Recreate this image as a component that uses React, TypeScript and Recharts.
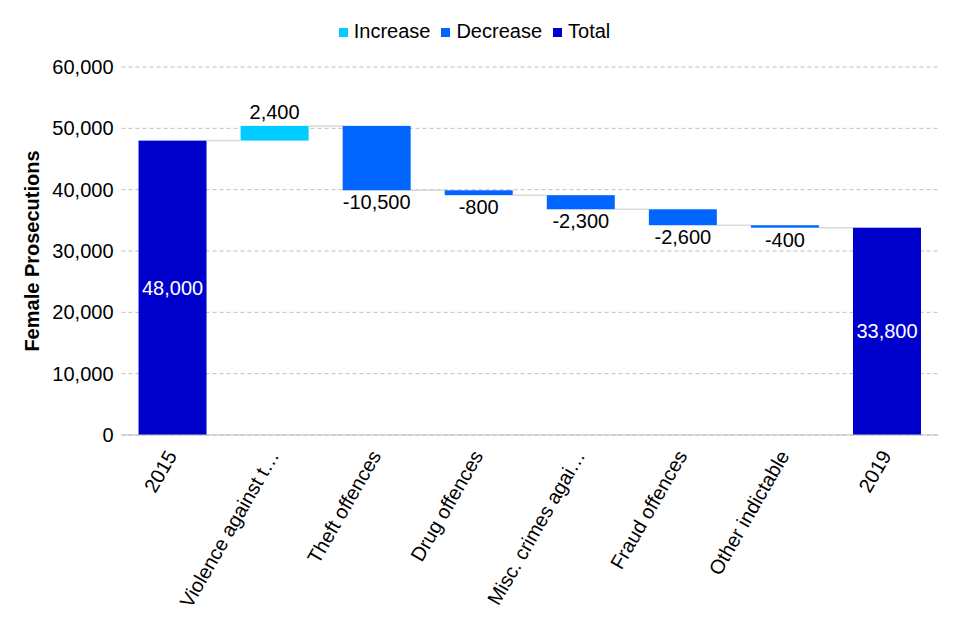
import React from 'react';
import { BarChart, Bar, XAxis, YAxis, CartesianGrid, Legend, LabelList } from 'recharts';

const categories = ['2015', 'Violence against t…', 'Theft offences', 'Drug offences', 'Misc. crimes agai…', 'Fraud offences', 'Other indictable', '2019'];
const startTotal = 48000;
const deltas = [2400, -10500, -800, -2300, -2600, -400];
const endTotal = 33800;
const yTicks = [0, 10000, 20000, 30000, 40000, 50000, 60000];
const legendOrder = ['Increase', 'Decrease', 'Total'];

const COL_INC = '#00CCFF';
const COL_DEC = '#0066FF';
const COL_TOT = '#0000CC';
const FONT = '"Liberation Sans", Arial, sans-serif';
const FS = 20;
const GAP_FRAC = 0.167;

type Row = { name: string; base: number; increase: number | null; decrease: number | null; total: number | null; end: number; last: boolean };

const rows: Row[] = (() => {
  const out: Row[] = [];
  out.push({ name: categories[0], base: 0, increase: null, decrease: null, total: startTotal, end: startTotal, last: false });
  let run = startTotal;
  deltas.forEach((d, i) => {
    const next = run + d;
    out.push({
      name: categories[i + 1],
      base: Math.min(run, next),
      increase: d > 0 ? d : null,
      decrease: d < 0 ? -d : null,
      total: null,
      end: next,
      last: false,
    });
    run = next;
  });
  out.push({ name: categories[categories.length - 1], base: 0, increase: null, decrease: null, total: endTotal, end: endTotal, last: true });
  return out;
})();

const fmt = (v: number) => v.toLocaleString('en-US');

const makeShape = (kind: 'inc' | 'dec' | 'tot') => (props: any) => {
  const { x, y, width, height, fill, payload } = props;
  if (!height || height <= 0 || width == null) return null as any;
  const gap = (width / (1 - 2 * GAP_FRAC)) * 2 * GAP_FRAC;
  const lineY = kind === 'dec' ? y + height : y;
  return (
    <g>
      <rect x={x} y={y} width={width} height={height} fill={fill} />
      {!payload.last && (
        <line x1={x + width} x2={x + width + gap} y1={lineY} y2={lineY} stroke="#d9d9d9" strokeWidth={1.5} />
      )}
    </g>
  );
};

const makeLabel = (kind: 'inc' | 'dec' | 'tot') => (props: any) => {
  const { x, y, width, height, value } = props;
  if (value == null || value === 0) return null as any;
  const cx = x + width / 2;
  let cy = y + height / 2;
  let text = fmt(value);
  let fill = '#000';
  if (kind === 'inc') cy = y - 14;
  if (kind === 'dec') { cy = y + height + 12; text = '-' + fmt(value); }
  if (kind === 'tot') fill = '#fff';
  return (
    <text x={cx} y={cy} textAnchor="middle" dominantBaseline="central" fontSize={FS} fontFamily={FONT} fill={fill}>
      {text}
    </text>
  );
};

const XTick = (props: any) => {
  const { x, y, payload } = props;
  return (
    <g transform={`translate(${x - 1},${y + 9})`}>
      <text x={0} y={0} textAnchor="end" dominantBaseline="central" transform="rotate(-60)" fontSize={FS} fontFamily={FONT} fill="#000">
        {payload.value}
      </text>
    </g>
  );
};

export default function App() {
  return (
    <div style={{ width: 944, height: 624, fontFamily: FONT }}>
      <BarChart
        width={944}
        height={624}
        data={rows}
        margin={{ top: 36, right: 14, left: 0, bottom: 7 }}
        barCategoryGap={`${GAP_FRAC * 100}%`}
      >
        <CartesianGrid vertical={false} stroke="#bfbfbf" strokeDasharray="4 3" />
        <XAxis
          dataKey="name"
          interval={0}
          tick={<XTick />}
          tickLine={false}
          axisLine={{ stroke: '#bfbfbf' }}
          height={190}
        />
        <YAxis
          width={113.5}
          domain={[0, 60000]}
          ticks={yTicks}
          tickFormatter={fmt}
          axisLine={false}
          tickLine={false}
          tick={{ fontSize: FS, fill: '#000', fontFamily: FONT }}
          label={{ value: 'Female Prosecutions', angle: -90, position: 'center', dx: -33, fontSize: FS, fontWeight: 'bold', fill: '#000', fontFamily: FONT }}
        />
        <Legend
          verticalAlign="top"
          align="center"
          iconType="square"
          iconSize={9}
          itemSorter={(item: any) => legendOrder.indexOf(item.value)}
          wrapperStyle={{ fontSize: FS, fontFamily: FONT, top: 12, transform: 'translateX(7px)' }}
          formatter={(v: any) => <span style={{ color: '#000', marginLeft: 2, marginRight: 1 }}>{v}</span>}
        />
        <Bar dataKey="base" stackId="w" fill="transparent" legendType="none" isAnimationActive={false} />
        <Bar dataKey="increase" name="Increase" stackId="w" fill={COL_INC} shape={makeShape('inc')} isAnimationActive={false}>
          <LabelList dataKey="increase" content={makeLabel('inc')} />
        </Bar>
        <Bar dataKey="decrease" name="Decrease" stackId="w" fill={COL_DEC} shape={makeShape('dec')} isAnimationActive={false}>
          <LabelList dataKey="decrease" content={makeLabel('dec')} />
        </Bar>
        <Bar dataKey="total" name="Total" stackId="w" fill={COL_TOT} shape={makeShape('tot')} isAnimationActive={false}>
          <LabelList dataKey="total" content={makeLabel('tot')} />
        </Bar>
      </BarChart>
    </div>
  );
}
